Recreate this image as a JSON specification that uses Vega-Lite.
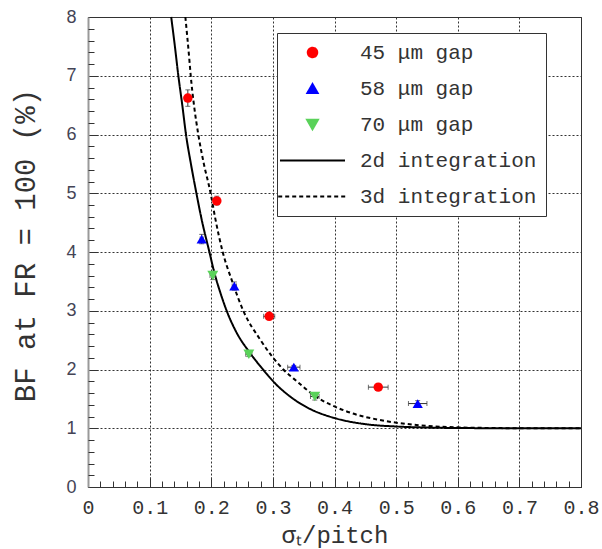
{
  "$schema": "https://vega.github.io/schema/vega-lite/v6.json",
  "width": 493,
  "height": 470,
  "autosize": "none",
  "padding": {"left": 88, "top": 17, "right": 21, "bottom": 62},
  "background": "white",
  "config": {
    "view": {"stroke": "#333", "strokeWidth": 1},
    "legend": {
      "orient": "none",
      "legendX": 189,
      "legendY": 16,
      "padding": 9,
      "strokeColor": "#333",
      "fillColor": "white",
      "labelFont": "Liberation Mono",
      "labelFontSize": 21,
      "labelColor": "#333",
      "labelLimit": 400,
      "rowPadding": 14,
      "symbolStrokeWidth": 2,
      "symbolOffset": 16,
      "labelOffset": 37
    }
  },
  "datasets": {
    "curves": [
      {"series": "2d integration", "x": 0.135, "y": 8.0},
      {"series": "2d integration", "x": 0.141, "y": 7.5},
      {"series": "2d integration", "x": 0.1466, "y": 7.0},
      {"series": "2d integration", "x": 0.153, "y": 6.5},
      {"series": "2d integration", "x": 0.159, "y": 6.0},
      {"series": "2d integration", "x": 0.167, "y": 5.5},
      {"series": "2d integration", "x": 0.175, "y": 5.05},
      {"series": "2d integration", "x": 0.1845, "y": 4.55},
      {"series": "2d integration", "x": 0.197, "y": 4.0},
      {"series": "2d integration", "x": 0.205, "y": 3.65},
      {"series": "2d integration", "x": 0.215, "y": 3.3},
      {"series": "2d integration", "x": 0.225, "y": 3.0},
      {"series": "2d integration", "x": 0.24, "y": 2.65},
      {"series": "2d integration", "x": 0.263, "y": 2.28},
      {"series": "2d integration", "x": 0.284, "y": 2.0},
      {"series": "2d integration", "x": 0.305, "y": 1.75},
      {"series": "2d integration", "x": 0.328, "y": 1.54},
      {"series": "2d integration", "x": 0.36, "y": 1.33},
      {"series": "2d integration", "x": 0.398, "y": 1.18},
      {"series": "2d integration", "x": 0.45, "y": 1.07},
      {"series": "2d integration", "x": 0.5, "y": 1.03},
      {"series": "2d integration", "x": 0.55, "y": 1.012},
      {"series": "2d integration", "x": 0.6, "y": 1.004},
      {"series": "2d integration", "x": 0.7, "y": 1.0},
      {"series": "2d integration", "x": 0.8, "y": 1.0},
      {"series": "3d integration", "x": 0.158, "y": 8.0},
      {"series": "3d integration", "x": 0.1645, "y": 7.27},
      {"series": "3d integration", "x": 0.1667, "y": 7.0},
      {"series": "3d integration", "x": 0.172, "y": 6.5},
      {"series": "3d integration", "x": 0.179, "y": 6.0},
      {"series": "3d integration", "x": 0.188, "y": 5.5},
      {"series": "3d integration", "x": 0.199, "y": 5.0},
      {"series": "3d integration", "x": 0.206, "y": 4.6},
      {"series": "3d integration", "x": 0.2186, "y": 4.0},
      {"series": "3d integration", "x": 0.234, "y": 3.5},
      {"series": "3d integration", "x": 0.252, "y": 3.0},
      {"series": "3d integration", "x": 0.28, "y": 2.5},
      {"series": "3d integration", "x": 0.317, "y": 2.0},
      {"series": "3d integration", "x": 0.34, "y": 1.79},
      {"series": "3d integration", "x": 0.368, "y": 1.55},
      {"series": "3d integration", "x": 0.398, "y": 1.38},
      {"series": "3d integration", "x": 0.43, "y": 1.25},
      {"series": "3d integration", "x": 0.469, "y": 1.15},
      {"series": "3d integration", "x": 0.533, "y": 1.055},
      {"series": "3d integration", "x": 0.6, "y": 1.015},
      {"series": "3d integration", "x": 0.65, "y": 1.005},
      {"series": "3d integration", "x": 0.7, "y": 1.0},
      {"series": "3d integration", "x": 0.8, "y": 1.0}
    ],
    "points": [
      {"series": "45 μm gap", "x": 0.162, "y": 6.62, "xlo": 0.159, "xhi": 0.165, "ylo": 6.48, "yhi": 6.76},
      {"series": "45 μm gap", "x": 0.209, "y": 4.87, "xlo": 0.206, "xhi": 0.212, "ylo": 4.8, "yhi": 4.95},
      {"series": "45 μm gap", "x": 0.294, "y": 2.905, "xlo": 0.285, "xhi": 0.303, "ylo": 2.88, "yhi": 2.93},
      {"series": "45 μm gap", "x": 0.471, "y": 1.7, "xlo": 0.455, "xhi": 0.487, "ylo": 1.68, "yhi": 1.72},
      {"series": "58 μm gap", "x": 0.1845, "y": 4.22, "xlo": 0.182, "xhi": 0.187, "ylo": 4.14, "yhi": 4.3},
      {"series": "58 μm gap", "x": 0.2375, "y": 3.42, "xlo": 0.234, "xhi": 0.241, "ylo": 3.35, "yhi": 3.49},
      {"series": "58 μm gap", "x": 0.334, "y": 2.04, "xlo": 0.324, "xhi": 0.344, "ylo": 2.01, "yhi": 2.07},
      {"series": "58 μm gap", "x": 0.535, "y": 1.42, "xlo": 0.52, "xhi": 0.55, "ylo": 1.37, "yhi": 1.47},
      {"series": "70 μm gap", "x": 0.2025, "y": 3.6, "xlo": 0.198, "xhi": 0.207, "ylo": 3.53, "yhi": 3.67},
      {"series": "70 μm gap", "x": 0.261, "y": 2.26, "xlo": 0.256, "xhi": 0.266, "ylo": 2.22, "yhi": 2.3},
      {"series": "70 μm gap", "x": 0.368, "y": 1.54, "xlo": 0.361, "xhi": 0.375, "ylo": 1.48, "yhi": 1.6}
    ]
  },
  "layer": [
    {
      "data": {"name": "curves"},
      "mark": {"type": "line", "strokeWidth": 2, "interpolate": "monotone"},
      "encoding": {
        "x": {
          "field": "x", "type": "quantitative",
          "scale": {"domain": [0, 0.8], "nice": false, "zero": false},
          "axis": {
            "orient": "bottom",
            "values": [0, 0.1, 0.2, 0.3, 0.4, 0.5, 0.6, 0.7, 0.8],
            "format": "~g",
            "labelFlush": false,
            "labelOverlap": false,
            "tickSize": -10, "tickColor": "#333", "tickWidth": 1,
            "grid": true, "gridColor": "#333", "gridDash": [2, 2], "gridWidth": 1, "gridOpacity": 1,
            "domainColor": "#333", "domainWidth": 1,
            "labelFont": "Liberation Mono", "labelFontSize": 20, "labelColor": "#333", "labelPadding": 20,
            "title": "σₜ/pitch",
            "titleFont": "Liberation Mono", "titleFontSize": 24, "titleFontWeight": "normal", "titleColor": "#333", "titlePadding": 6
          }
        },
        "y": {
          "field": "y", "type": "quantitative",
          "scale": {"domain": [0, 8], "nice": false},
          "axis": {
            "orient": "left",
            "values": [0, 1, 2, 3, 4, 5, 6, 7, 8],
            "labelFlush": false,
            "labelOverlap": false,
            "tickSize": -10, "tickColor": "#333", "tickWidth": 1,
            "grid": true, "gridColor": "#333", "gridDash": [2, 2], "gridWidth": 1, "gridOpacity": 1,
            "domainColor": "#999", "domainWidth": 2,
            "labelFont": "Liberation Sans", "labelFontSize": 18, "labelColor": "#445", "labelPadding": 22,
            "title": "BF at FR = 100 (%)",
            "titleY": 228,
            "titleFont": "Liberation Mono", "titleFontSize": 29, "titleFontWeight": "normal", "titleColor": "#333", "titlePadding": 25
          }
        },
        "detail": {"field": "series"},
        "color": {
          "field": "series", "type": "nominal",
          "scale": {
            "domain": ["45 μm gap", "58 μm gap", "70 μm gap", "2d integration", "3d integration"],
            "range": ["#ff0000", "#0000ff", "#5ad25a", "#000000", "#000000"]
          },
          "legend": {"title": null}
        },
        "strokeDash": {
          "field": "series", "type": "nominal",
          "scale": {
            "domain": ["45 μm gap", "58 μm gap", "70 μm gap", "2d integration", "3d integration"],
            "range": [[1, 0], [1, 0], [1, 0], [1, 0], [4, 3]]
          },
          "legend": {"title": null}
        }
      }
    },
    {
      "data": {"name": "points"},
      "mark": {"type": "errorbar", "ticks": true, "thickness": 1, "color": "#333"},
      "encoding": {
        "x": {"field": "xlo", "type": "quantitative", "axis": null},
        "x2": {"field": "xhi"},
        "y": {"field": "y", "type": "quantitative", "axis": null}
      }
    },
    {
      "data": {"name": "points"},
      "mark": {"type": "errorbar", "ticks": true, "thickness": 1, "color": "#333"},
      "encoding": {
        "y": {"field": "ylo", "type": "quantitative", "axis": null},
        "y2": {"field": "yhi"},
        "x": {"field": "x", "type": "quantitative", "axis": null}
      }
    },
    {
      "data": {"name": "points"},
      "mark": {"type": "point", "filled": true, "opacity": 1},
      "encoding": {
        "x": {
          "field": "x", "type": "quantitative",
          "axis": {
            "orient": "bottom",
            "values": [0.02, 0.04, 0.06, 0.08, 0.12, 0.14, 0.16, 0.18, 0.22, 0.24, 0.26, 0.28, 0.32, 0.34, 0.36, 0.38, 0.42, 0.44, 0.46, 0.48, 0.52, 0.54, 0.56, 0.58, 0.62, 0.64, 0.66, 0.68, 0.72, 0.74, 0.76, 0.78],
            "labels": false, "grid": false, "domain": false,
            "tickSize": -6, "tickColor": "#333", "tickWidth": 1,
            "title": null
          }
        },
        "y": {
          "field": "y", "type": "quantitative",
          "axis": {
            "orient": "left",
            "values": [0.2, 0.4, 0.6, 0.8, 1.2, 1.4, 1.6, 1.8, 2.2, 2.4, 2.6, 2.8, 3.2, 3.4, 3.6, 3.8, 4.2, 4.4, 4.6, 4.8, 5.2, 5.4, 5.6, 5.8, 6.2, 6.4, 6.6, 6.8, 7.2, 7.4, 7.6, 7.8],
            "labels": false, "grid": false, "domain": false,
            "tickSize": -6, "tickColor": "#333", "tickWidth": 1,
            "title": null
          }
        },
        "color": {
          "field": "series", "type": "nominal",
          "scale": {
            "domain": ["45 μm gap", "58 μm gap", "70 μm gap", "2d integration", "3d integration"],
            "range": ["#ff0000", "#0000ff", "#5ad25a", "#000000", "#000000"]
          },
          "legend": {"title": null}
        },
        "shape": {
          "field": "series", "type": "nominal",
          "scale": {
            "domain": ["45 μm gap", "58 μm gap", "70 μm gap", "2d integration", "3d integration"],
            "range": ["circle", "triangle-up", "triangle-down", "M-5.6,0L5.6,0", "M-5.6,0L5.6,0"]
          },
          "legend": {"title": null}
        },
        "size": {
          "field": "series", "type": "nominal",
          "scale": {
            "domain": ["45 μm gap", "58 μm gap", "70 μm gap", "2d integration", "3d integration"],
            "range": [90, 150, 160, 80, 80]
          },
          "legend": {"title": null}
        }
      }
    }
  ],
  "resolve": {"axis": {"x": "independent", "y": "independent"}}
}
